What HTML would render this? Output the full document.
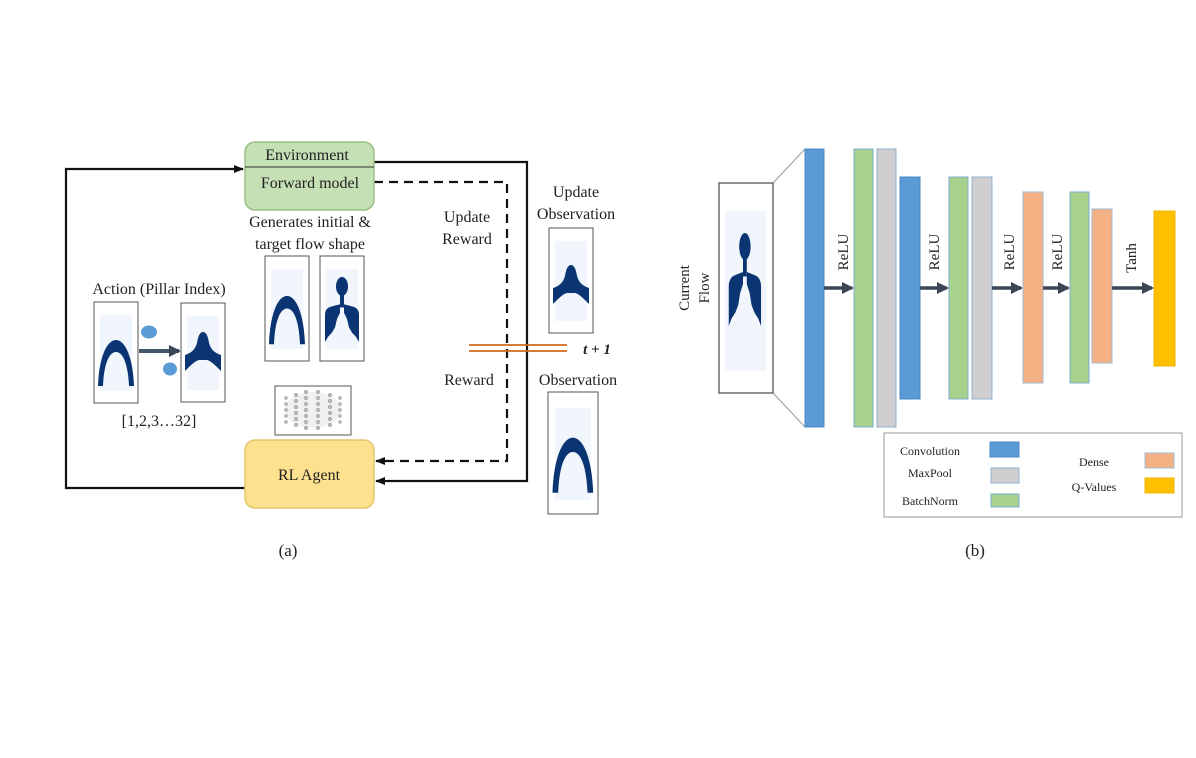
<!DOCTYPE html>
<html><head><meta charset="utf-8"><style>
html,body{margin:0;padding:0;background:#fff;}
svg{display:block;}
text{font-family:"Liberation Serif",serif;fill:#222;}
</style></head><body>
<svg width="1196" height="758" viewBox="0 0 1196 758" xmlns="http://www.w3.org/2000/svg">
<defs>
<marker id="ah" markerWidth="10" markerHeight="10" refX="9" refY="5" orient="auto" markerUnits="userSpaceOnUse"><path d="M0,1 L10,5 L0,9 Z" fill="#111"/></marker>
<marker id="ah2" markerWidth="12" markerHeight="12" refX="10" refY="6" orient="auto" markerUnits="userSpaceOnUse"><path d="M0,0 L12,6 L0,12 Z" fill="#3a4556"/></marker>
<g id="arch"><path d="M4,84 C5,55 13,38 22,38 C31,38 39,55 40,84 L35,84 C34,62 29,50 22,50 C15,50 10,62 9,84 Z" fill="#0b3572"/></g>
<g id="bump"><path d="M4,68 L4,52 C10,50 14,47 16,40 C17,33 19,29 22,29 C25,29 27,33 28,40 C30,47 34,50 40,52 L40,68 C34,62 30,58 26,57 L18,57 C14,58 10,62 4,68 Z" fill="#0b3572"/></g>
<g id="lung" fill="#0b3572">
<ellipse cx="22" cy="29" rx="6" ry="9"/>
<rect x="20" y="35" width="4" height="14"/>
<path d="M20,46 L12,48 C7,49 5,52 5,56 L5,82 L8,77 L12,73 L15,68 L17,60 L20,54 Z"/>
<path d="M24,46 L32,48 C37,49 39,52 39,56 L39,82 L36,77 L32,73 L29,68 L27,60 L24,54 Z"/>
</g>
</defs>

<polyline points="245,488 66,488 66,169 243,169" fill="none" stroke="#111" stroke-width="2.2" marker-end="url(#ah)"/>
<polyline points="374,162 527,162 527,481 376,481" fill="none" stroke="#111" stroke-width="2.2" marker-end="url(#ah)"/>
<polyline points="374,182 507,182 507,461 376,461" fill="none" stroke="#111" stroke-width="2.2" stroke-dasharray="9,6" marker-end="url(#ah)"/>

<rect x="245" y="142" width="129" height="68" rx="10" fill="#c5e0b4" stroke="#9cbf86" stroke-width="1.5"/>
<line x1="245" y1="167" x2="374" y2="167" stroke="#333" stroke-width="1"/>
<text x="307" y="160" font-size="16" text-anchor="middle">Environment</text>
<text x="310" y="188" font-size="16" text-anchor="middle">Forward model</text>

<rect x="245" y="440" width="129" height="68" rx="10" fill="#fde18f" stroke="#e3c66e" stroke-width="1.5"/>
<text x="309" y="480" font-size="16" text-anchor="middle">RL Agent</text>

<text x="310" y="227" font-size="16" text-anchor="middle">Generates initial &amp;</text>
<text x="310" y="249" font-size="16" text-anchor="middle">target flow shape</text>

<rect x="265" y="256" width="44" height="105" fill="#fff" stroke="#555"/>
<rect x="271" y="269" width="32" height="80" fill="#f1f6fd"/>
<use href="#arch" transform="translate(265,256) scale(1,1.05)"/>
<rect x="320" y="256" width="44" height="105" fill="#fff" stroke="#555"/>
<rect x="326" y="269" width="32" height="80" fill="#f1f6fd"/>
<use href="#lung" transform="translate(320,256) scale(1,1.05)"/>

<rect x="275" y="386" width="76" height="49" fill="#fff" stroke="#555"/>
<ellipse cx="313" cy="410" rx="28" ry="18" fill="#999" opacity="0.15"/>
<g fill="#bbb" stroke="#888" stroke-width="0.5">
<circle cx="286" cy="398" r="1.5"/><circle cx="286" cy="404" r="1.5"/><circle cx="286" cy="410" r="1.5"/><circle cx="286" cy="416" r="1.5"/><circle cx="286" cy="422" r="1.5"/>
<circle cx="296" cy="395" r="1.7"/><circle cx="296" cy="401" r="1.7"/><circle cx="296" cy="407" r="1.7"/><circle cx="296" cy="413" r="1.7"/><circle cx="296" cy="419" r="1.7"/><circle cx="296" cy="425" r="1.7"/>
<circle cx="306" cy="392" r="1.7"/><circle cx="306" cy="398" r="1.7"/><circle cx="306" cy="404" r="1.7"/><circle cx="306" cy="410" r="1.7"/><circle cx="306" cy="416" r="1.7"/><circle cx="306" cy="422" r="1.7"/><circle cx="306" cy="428" r="1.7"/>
<circle cx="318" cy="392" r="1.7"/><circle cx="318" cy="398" r="1.7"/><circle cx="318" cy="404" r="1.7"/><circle cx="318" cy="410" r="1.7"/><circle cx="318" cy="416" r="1.7"/><circle cx="318" cy="422" r="1.7"/><circle cx="318" cy="428" r="1.7"/>
<circle cx="330" cy="395" r="1.7"/><circle cx="330" cy="401" r="1.7"/><circle cx="330" cy="407" r="1.7"/><circle cx="330" cy="413" r="1.7"/><circle cx="330" cy="419" r="1.7"/><circle cx="330" cy="425" r="1.7"/>
<circle cx="340" cy="398" r="1.5"/><circle cx="340" cy="404" r="1.5"/><circle cx="340" cy="410" r="1.5"/><circle cx="340" cy="416" r="1.5"/><circle cx="340" cy="422" r="1.5"/>
</g>

<text x="159" y="294" font-size="16" text-anchor="middle">Action (Pillar Index)</text>
<rect x="94" y="302" width="44" height="101" fill="#fff" stroke="#555"/>
<rect x="100" y="315" width="32" height="76" fill="#f1f6fd"/>
<use href="#arch" transform="translate(94,302)"/>
<rect x="181" y="303" width="44" height="99" fill="#fff" stroke="#555"/>
<rect x="187" y="316" width="32" height="74" fill="#f1f6fd"/>
<use href="#bump" transform="translate(181,303)"/>
<line x1="139" y1="351" x2="179" y2="351" stroke="#44546a" stroke-width="4" marker-end="url(#ah2)"/>
<ellipse cx="149" cy="332" rx="8" ry="6.5" fill="#5b9bd5"/>
<ellipse cx="170" cy="369" rx="7" ry="6.5" fill="#5b9bd5"/>
<text x="159" y="426" font-size="16" text-anchor="middle">[1,2,3…32]</text>

<text x="467" y="222" font-size="16" text-anchor="middle">Update</text>
<text x="467" y="244" font-size="16" text-anchor="middle">Reward</text>
<text x="469" y="385" font-size="16" text-anchor="middle">Reward</text>
<line x1="469" y1="345" x2="567" y2="345" stroke="#d2691e" stroke-width="1.8"/>
<line x1="469" y1="351" x2="567" y2="351" stroke="#d2691e" stroke-width="1.8"/>
<text x="597" y="354" font-size="15" font-style="italic" font-weight="bold" text-anchor="middle">t + 1</text>

<text x="576" y="197" font-size="16" text-anchor="middle">Update</text>
<text x="576" y="219" font-size="16" text-anchor="middle">Observation</text>
<rect x="549" y="228" width="44" height="105" fill="#fff" stroke="#555"/>
<rect x="555" y="241" width="32" height="80" fill="#f1f6fd"/>
<use href="#bump" transform="translate(549,236)"/>
<text x="578" y="385" font-size="16" text-anchor="middle">Observation</text>
<rect x="548" y="392" width="50" height="122" fill="#fff" stroke="#555"/>
<rect x="555" y="408" width="36" height="92" fill="#f1f6fd"/>
<use href="#arch" transform="translate(548,392) scale(1.13,1.2)"/>

<text x="288" y="556" font-size="17" text-anchor="middle">(a)</text>
<text x="975" y="556" font-size="17" text-anchor="middle">(b)</text>

<text transform="translate(689,288) rotate(-90)" font-size="15" text-anchor="middle">Current</text>
<text transform="translate(709,288) rotate(-90)" font-size="15" text-anchor="middle">Flow</text>
<line x1="773" y1="183" x2="805" y2="149" stroke="#999" stroke-width="1"/>
<line x1="773" y1="393" x2="805" y2="427" stroke="#999" stroke-width="1"/>
<rect x="719" y="183" width="54" height="210" fill="#fff" stroke="#555" stroke-width="1.3"/>
<rect x="725" y="211" width="41" height="160" fill="#f1f6fd"/>
<use href="#lung" transform="translate(724,203) scale(0.95,1.5)"/>

<g stroke-width="1">
<rect x="805" y="149" width="19" height="278" fill="#5b9bd5" stroke="#4a8ac4"/>
<rect x="854" y="149" width="19" height="278" fill="#a9d18e" stroke="#7aaed0"/>
<rect x="877" y="149" width="19" height="278" fill="#d0cece" stroke="#8fb0d0"/>
<rect x="900" y="177" width="20" height="222" fill="#5b9bd5" stroke="#4a8ac4"/>
<rect x="949" y="177" width="19" height="222" fill="#a9d18e" stroke="#7aaed0"/>
<rect x="972" y="177" width="20" height="222" fill="#d0cece" stroke="#8fb0d0"/>
<rect x="1023" y="192" width="20" height="191" fill="#f4b183" stroke="#9fbad6"/>
<rect x="1070" y="192" width="19" height="191" fill="#a9d18e" stroke="#7aaed0"/>
<rect x="1092" y="209" width="20" height="154" fill="#f4b183" stroke="#9fbad6"/>
<rect x="1154" y="211" width="21" height="155" fill="#ffc000" stroke="#f0b400"/>
</g>
<g stroke="#3a4556" stroke-width="3.5" marker-end="url(#ah2)">
<line x1="824" y1="288" x2="852" y2="288"/>
<line x1="920" y1="288" x2="947" y2="288"/>
<line x1="992" y1="288" x2="1021" y2="288"/>
<line x1="1043" y1="288" x2="1068" y2="288"/>
<line x1="1112" y1="288" x2="1152" y2="288"/>
</g>
<text transform="translate(848,252) rotate(-90)" font-size="15" text-anchor="middle">ReLU</text>
<text transform="translate(939,252) rotate(-90)" font-size="15" text-anchor="middle">ReLU</text>
<text transform="translate(1014,252) rotate(-90)" font-size="15" text-anchor="middle">ReLU</text>
<text transform="translate(1062,252) rotate(-90)" font-size="15" text-anchor="middle">ReLU</text>
<text transform="translate(1136,258) rotate(-90)" font-size="15" text-anchor="middle">Tanh</text>

<rect x="884" y="433" width="298" height="84" fill="#fff" stroke="#999" stroke-width="1"/>
<text x="930" y="455" font-size="12" text-anchor="middle">Convolution</text>
<text x="930" y="477" font-size="12" text-anchor="middle">MaxPool</text>
<text x="930" y="505" font-size="12" text-anchor="middle">BatchNorm</text>
<text x="1094" y="466" font-size="12" text-anchor="middle">Dense</text>
<text x="1094" y="491" font-size="12" text-anchor="middle">Q-Values</text>
<rect x="990" y="442" width="29" height="15" fill="#5b9bd5" stroke="#4a8ac4"/>
<rect x="991" y="468" width="28" height="15" fill="#d0cece" stroke="#8fb0d0"/>
<rect x="991" y="494" width="28" height="13" fill="#a9d18e" stroke="#7aaed0"/>
<rect x="1145" y="453" width="29" height="15" fill="#f4b183" stroke="#9fbad6"/>
<rect x="1145" y="478" width="29" height="15" fill="#ffc000" stroke="#f0b400"/>
</svg>
</body></html>
